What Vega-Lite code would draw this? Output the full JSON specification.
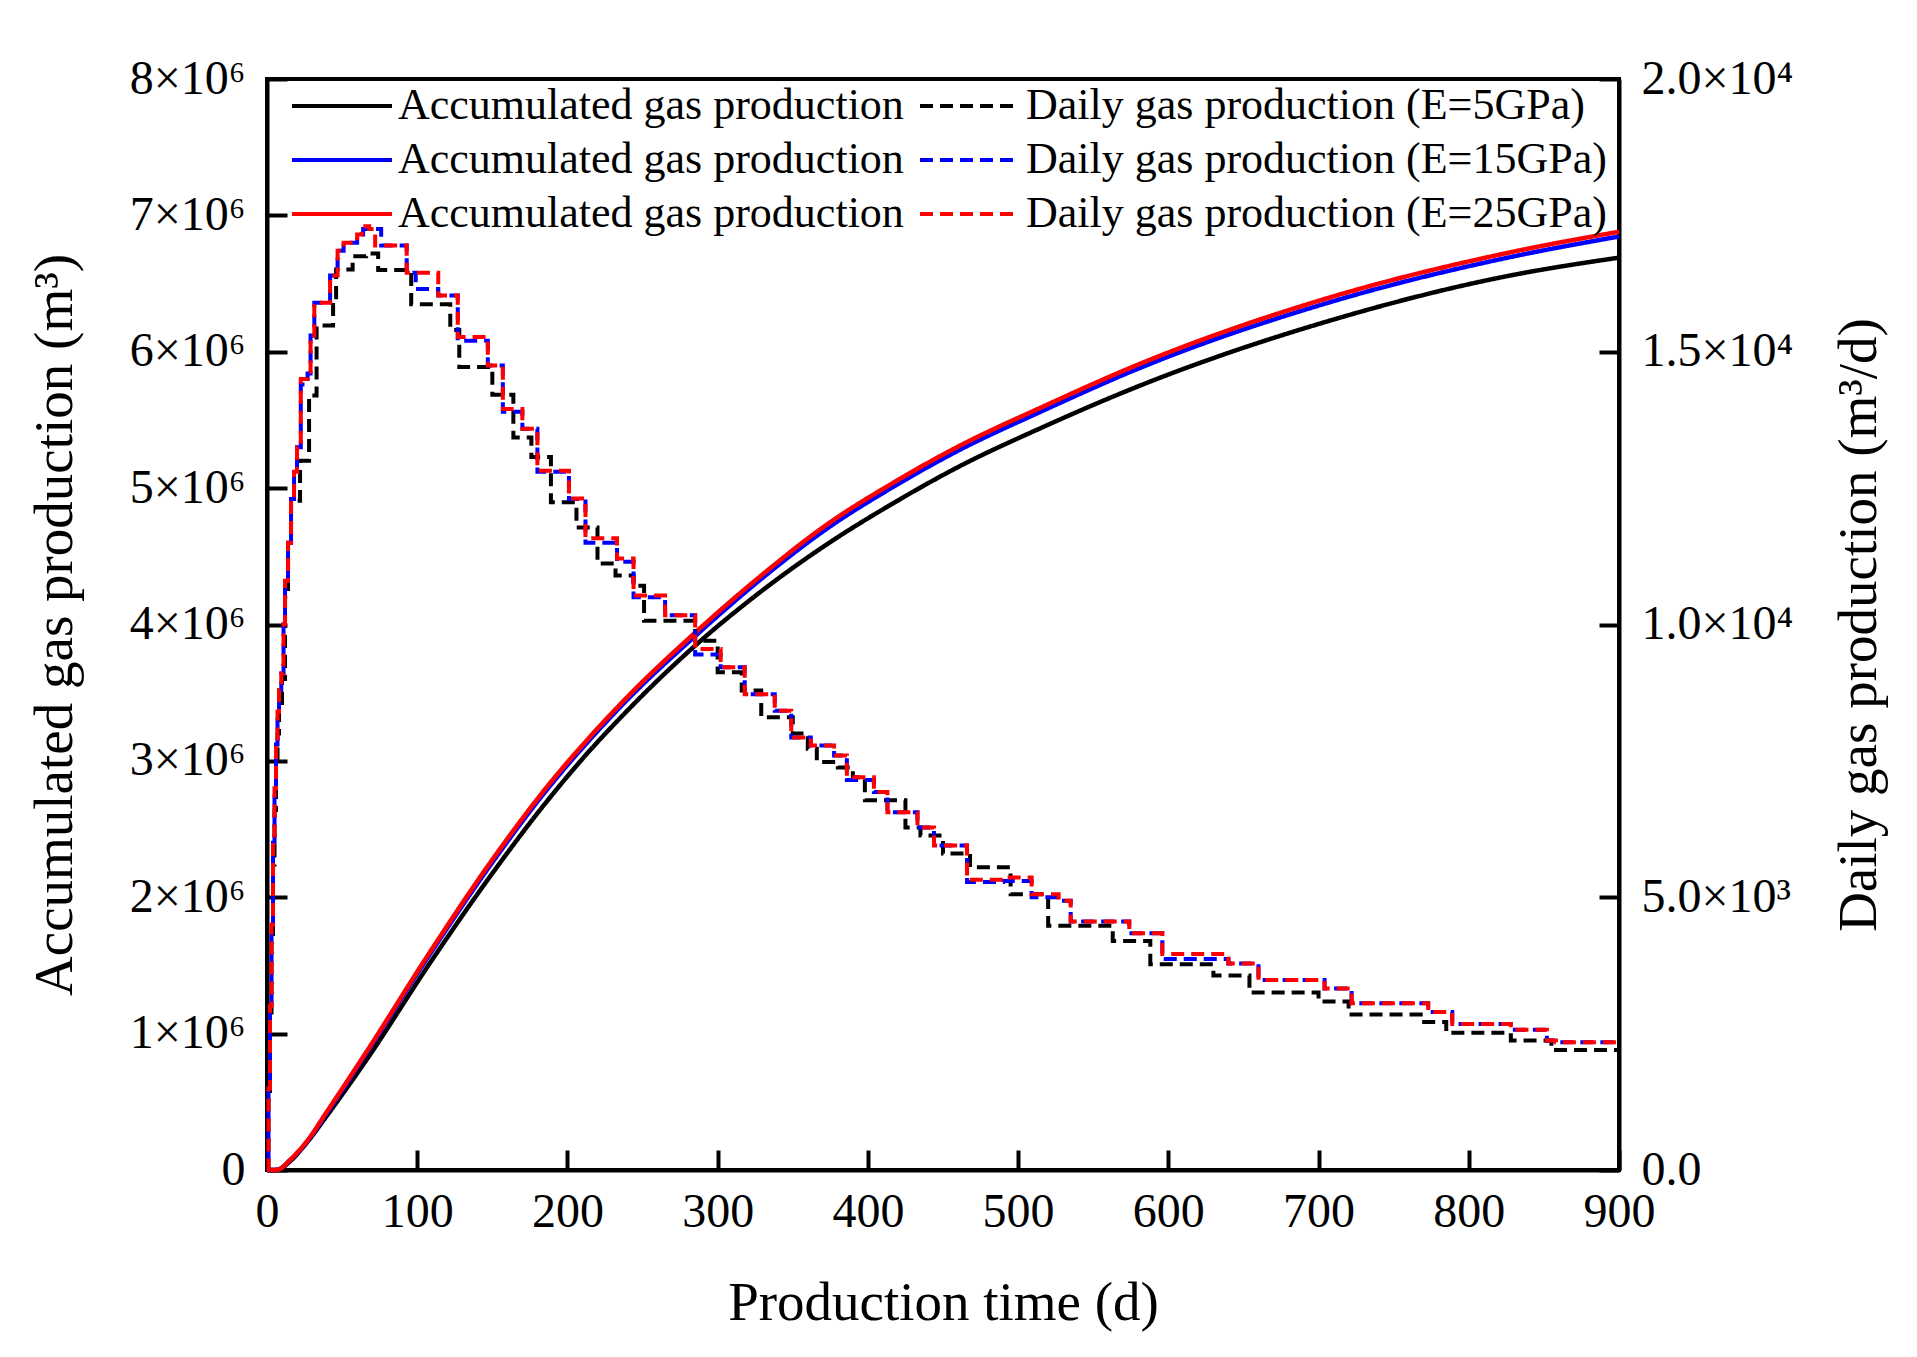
{
  "$schema": "https://vega.github.io/schema/vega-lite/v6.json",
  "autosize": {"type": "none"},
  "width": 1352,
  "height": 1091,
  "padding": {"left": 267, "top": 79, "right": 298, "bottom": 187},
  "background": "white",
  "config": {
    "view": {"stroke": "black", "strokeWidth": 4},
    "font": "Liberation Serif",
    "axis": {"grid": false, "domainColor": "black", "domainWidth": 4, "tickColor": "black", "tickWidth": 4, "tickSize": -20,
      "labelFont": "Liberation Serif", "labelFontSize": 48, "labelColor": "black", "labelFlush": false, "labelOverlap": false, "labelBound": false,
      "titleFont": "Liberation Serif", "titleFontSize": 55, "titleFontWeight": "normal", "titleColor": "black"}
  },
  "data": {"values": [
    {"s":"E05a","t":0,"v":0},{"s":"E05a","t":5,"v":0},{"s":"E05a","t":8,"v":4000},{"s":"E05a","t":15,"v":60000},{"s":"E05a","t":26.5,"v":200000},{"s":"E05a","t":40,"v":400000},{"s":"E05a","t":67,"v":820000},{"s":"E05a","t":108,"v":1510000},{"s":"E05a","t":149,"v":2160000},{"s":"E05a","t":189,"v":2740000},{"s":"E05a","t":208,"v":2990000},{"s":"E05a","t":240,"v":3370000},{"s":"E05a","t":284,"v":3835000},{"s":"E05a","t":328,"v":4235000},{"s":"E05a","t":373,"v":4590000},{"s":"E05a","t":417,"v":4890000},{"s":"E05a","t":461,"v":5160000},{"s":"E05a","t":515,"v":5440000},{"s":"E05a","t":583,"v":5760000},{"s":"E05a","t":705,"v":6220000},{"s":"E05a","t":828,"v":6560000},{"s":"E05a","t":900,"v":6690000},

    {"s":"E15a","t":0,"v":0},{"s":"E15a","t":5,"v":0},{"s":"E15a","t":8,"v":5000},{"s":"E15a","t":15,"v":68000},{"s":"E15a","t":26.5,"v":205000},{"s":"E15a","t":40,"v":420000},{"s":"E15a","t":67,"v":870000},{"s":"E15a","t":108,"v":1575000},{"s":"E15a","t":149,"v":2240000},{"s":"E15a","t":189,"v":2825000},{"s":"E15a","t":204,"v":3020000},{"s":"E15a","t":240,"v":3450000},{"s":"E15a","t":284,"v":3905000},{"s":"E15a","t":328,"v":4325000},{"s":"E15a","t":373,"v":4705000},{"s":"E15a","t":417,"v":5010000},{"s":"E15a","t":461,"v":5280000},{"s":"E15a","t":515,"v":5560000},{"s":"E15a","t":583,"v":5890000},{"s":"E15a","t":705,"v":6355000},{"s":"E15a","t":828,"v":6695000},{"s":"E15a","t":900,"v":6845000},

    {"s":"E25a","t":0,"v":0},{"s":"E25a","t":5,"v":0},{"s":"E25a","t":8,"v":5000},{"s":"E25a","t":15,"v":70000},{"s":"E25a","t":26.5,"v":210000},{"s":"E25a","t":40,"v":430000},{"s":"E25a","t":67,"v":880000},{"s":"E25a","t":108,"v":1590000},{"s":"E25a","t":149,"v":2260000},{"s":"E25a","t":189,"v":2845000},{"s":"E25a","t":204,"v":3040000},{"s":"E25a","t":240,"v":3470000},{"s":"E25a","t":284,"v":3930000},{"s":"E25a","t":328,"v":4350000},{"s":"E25a","t":373,"v":4735000},{"s":"E25a","t":417,"v":5040000},{"s":"E25a","t":461,"v":5310000},{"s":"E25a","t":515,"v":5590000},{"s":"E25a","t":583,"v":5920000},{"s":"E25a","t":705,"v":6390000},{"s":"E25a","t":828,"v":6730000},{"s":"E25a","t":900,"v":6880000},

    {"s":"E05d","t":0,"v":0},{"s":"E05d","t":1,"v":1400},{"s":"E05d","t":2,"v":2800},{"s":"E05d","t":3,"v":4200},{"s":"E05d","t":4,"v":5600},{"s":"E05d","t":5,"v":6600},{"s":"E05d","t":6,"v":7400},{"s":"E05d","t":7,"v":8000},{"s":"E05d","t":8,"v":8500},{"s":"E05d","t":10,"v":9000},{"s":"E05d","t":12,"v":10500},{"s":"E05d","t":14,"v":11500},{"s":"E05d","t":16,"v":12270},{"s":"E05d","t":22,"v":13000},{"s":"E05d","t":28,"v":14200},{"s":"E05d","t":33,"v":15480},{"s":"E05d","t":44,"v":16000},{"s":"E05d","t":46,"v":16510},{"s":"E05d","t":57,"v":16750},{"s":"E05d","t":66,"v":16800},{"s":"E05d","t":74,"v":16500},{"s":"E05d","t":96,"v":15870},{"s":"E05d","t":122,"v":15400},{"s":"E05d","t":128,"v":14720},{"s":"E05d","t":150,"v":14210},{"s":"E05d","t":164,"v":13430},{"s":"E05d","t":176,"v":13070},{"s":"E05d","t":189,"v":12240},{"s":"E05d","t":206,"v":11780},{"s":"E05d","t":220,"v":11120},{"s":"E05d","t":232,"v":10900},{"s":"E05d","t":244,"v":10710},{"s":"E05d","t":251,"v":10070},{"s":"E05d","t":285,"v":9700},{"s":"E05d","t":300,"v":9125},{"s":"E05d","t":316,"v":8790},{"s":"E05d","t":329,"v":8300},{"s":"E05d","t":350,"v":8000},{"s":"E05d","t":360,"v":7720},{"s":"E05d","t":366,"v":7480},{"s":"E05d","t":380,"v":7380},{"s":"E05d","t":390,"v":7200},{"s":"E05d","t":398,"v":6780},{"s":"E05d","t":425,"v":6280},{"s":"E05d","t":435,"v":6130},{"s":"E05d","t":450,"v":5800},{"s":"E05d","t":468,"v":5550},{"s":"E05d","t":495,"v":5056},{"s":"E05d","t":520,"v":4477},{"s":"E05d","t":563,"v":4198},{"s":"E05d","t":588,"v":3770},{"s":"E05d","t":630,"v":3564},{"s":"E05d","t":654,"v":3254},{"s":"E05d","t":700,"v":3087},{"s":"E05d","t":720,"v":2849},{"s":"E05d","t":768,"v":2714},{"s":"E05d","t":785,"v":2516},{"s":"E05d","t":828,"v":2373},{"s":"E05d","t":855,"v":2198},{"s":"E05d","t":900,"v":2198},

    {"s":"E15d","t":0,"v":0},{"s":"E15d","t":1,"v":1500},{"s":"E15d","t":2,"v":3000},{"s":"E15d","t":3,"v":4500},{"s":"E15d","t":4,"v":6000},{"s":"E15d","t":5,"v":7000},{"s":"E15d","t":6,"v":7800},{"s":"E15d","t":7,"v":8400},{"s":"E15d","t":8,"v":8800},{"s":"E15d","t":9.5,"v":9100},{"s":"E15d","t":11,"v":10000},{"s":"E15d","t":12,"v":10800},{"s":"E15d","t":14,"v":11500},{"s":"E15d","t":16,"v":12300},{"s":"E15d","t":18,"v":12800},{"s":"E15d","t":20,"v":13250},{"s":"E15d","t":22.5,"v":14400},{"s":"E15d","t":27,"v":14600},{"s":"E15d","t":29,"v":15300},{"s":"E15d","t":31.5,"v":15900},{"s":"E15d","t":42,"v":16400},{"s":"E15d","t":47,"v":16850},{"s":"E15d","t":51,"v":17000},{"s":"E15d","t":60,"v":17150},{"s":"E15d","t":64,"v":17250},{"s":"E15d","t":76,"v":16950},{"s":"E15d","t":93,"v":16450},{"s":"E15d","t":99,"v":16150},{"s":"E15d","t":114,"v":16030},{"s":"E15d","t":127,"v":15200},{"s":"E15d","t":147,"v":14750},{"s":"E15d","t":157,"v":13900},{"s":"E15d","t":170,"v":13590},{"s":"E15d","t":180,"v":12800},{"s":"E15d","t":201,"v":12300},{"s":"E15d","t":212,"v":11500},{"s":"E15d","t":233,"v":11150},{"s":"E15d","t":244,"v":10500},{"s":"E15d","t":265,"v":10170},{"s":"E15d","t":285,"v":9450},{"s":"E15d","t":302,"v":9215},{"s":"E15d","t":318,"v":8720},{"s":"E15d","t":338,"v":8420},{"s":"E15d","t":349,"v":7930},{"s":"E15d","t":362,"v":7780},{"s":"E15d","t":377.5,"v":7600},{"s":"E15d","t":386,"v":7150},{"s":"E15d","t":404,"v":6930},{"s":"E15d","t":413,"v":6560},{"s":"E15d","t":433,"v":6280},{"s":"E15d","t":444,"v":5950},{"s":"E15d","t":466,"v":5278},{"s":"E15d","t":490,"v":5300},{"s":"E15d","t":509,"v":5000},{"s":"E15d","t":527,"v":4937},{"s":"E15d","t":535,"v":4556},{"s":"E15d","t":574,"v":4341},{"s":"E15d","t":596,"v":3870},{"s":"E15d","t":640,"v":3786},{"s":"E15d","t":660,"v":3484},{"s":"E15d","t":704,"v":3326},{"s":"E15d","t":722,"v":3056},{"s":"E15d","t":773,"v":2897},{"s":"E15d","t":789,"v":2675},{"s":"E15d","t":828,"v":2571},{"s":"E15d","t":852,"v":2373},{"s":"E15d","t":858,"v":2341},{"s":"E15d","t":900,"v":2341},

    {"s":"E25d","t":0,"v":0},{"s":"E25d","t":1,"v":1500},{"s":"E25d","t":2,"v":3000},{"s":"E25d","t":3,"v":4500},{"s":"E25d","t":4,"v":6000},{"s":"E25d","t":5,"v":7000},{"s":"E25d","t":6,"v":7800},{"s":"E25d","t":7,"v":8400},{"s":"E25d","t":8,"v":8800},{"s":"E25d","t":9.5,"v":9100},{"s":"E25d","t":11,"v":10000},{"s":"E25d","t":12,"v":10800},{"s":"E25d","t":14,"v":11500},{"s":"E25d","t":16,"v":12300},{"s":"E25d","t":18,"v":12800},{"s":"E25d","t":20,"v":13250},{"s":"E25d","t":22.5,"v":14500},{"s":"E25d","t":27,"v":14600},{"s":"E25d","t":29,"v":15300},{"s":"E25d","t":31.5,"v":15900},{"s":"E25d","t":42,"v":16400},{"s":"E25d","t":47,"v":16850},{"s":"E25d","t":51,"v":17000},{"s":"E25d","t":60,"v":17150},{"s":"E25d","t":63,"v":17300},{"s":"E25d","t":68,"v":17250},{"s":"E25d","t":72,"v":16950},{"s":"E25d","t":93,"v":16450},{"s":"E25d","t":114,"v":16030},{"s":"E25d","t":127,"v":15270},{"s":"E25d","t":147,"v":14750},{"s":"E25d","t":157,"v":13950},{"s":"E25d","t":170,"v":13590},{"s":"E25d","t":180,"v":12820},{"s":"E25d","t":201,"v":12310},{"s":"E25d","t":212,"v":11580},{"s":"E25d","t":233,"v":11210},{"s":"E25d","t":244,"v":10530},{"s":"E25d","t":265,"v":10170},{"s":"E25d","t":285,"v":9550},{"s":"E25d","t":302,"v":9215},{"s":"E25d","t":318,"v":8720},{"s":"E25d","t":338,"v":8420},{"s":"E25d","t":349,"v":7930},{"s":"E25d","t":362,"v":7780},{"s":"E25d","t":377.5,"v":7600},{"s":"E25d","t":386,"v":7200},{"s":"E25d","t":404,"v":6930},{"s":"E25d","t":413,"v":6560},{"s":"E25d","t":433,"v":6280},{"s":"E25d","t":444,"v":5950},{"s":"E25d","t":466,"v":5320},{"s":"E25d","t":490,"v":5360},{"s":"E25d","t":509,"v":5056},{"s":"E25d","t":527,"v":4937},{"s":"E25d","t":535,"v":4556},{"s":"E25d","t":574,"v":4341},{"s":"E25d","t":596,"v":3960},{"s":"E25d","t":640,"v":3786},{"s":"E25d","t":660,"v":3484},{"s":"E25d","t":704,"v":3326},{"s":"E25d","t":722,"v":3056},{"s":"E25d","t":773,"v":2897},{"s":"E25d","t":789,"v":2675},{"s":"E25d","t":828,"v":2571},{"s":"E25d","t":852,"v":2373},{"s":"E25d","t":858,"v":2341},{"s":"E25d","t":900,"v":2341}
  ]},
  "encoding": {
    "x": {"field": "t", "type": "quantitative", "scale": {"domain": [0, 900], "nice": false},
      "axis": {"title": "Production time (d)", "values": [0,100,200,300,400,500,600,700,800,900], "labelPadding": 38, "titlePadding": 40}},
    "color": {"field": "s", "type": "nominal",
      "scale": {"domain": ["E05a","E15a","E25a","E05d","E15d","E25d"], "range": ["#000000","#0000ff","#ff0000","#000000","#0000ff","#ff0000"]},
      "legend": {"title": null, "orient": "none", "legendX": 23, "legendY": 0, "columns": 2, "symbolType": "M-2,0H2", "symbolSize": 2500, "symbolOffset": 25, "symbolStrokeWidth": 4,
        "labelFont": "Liberation Serif", "labelFontSize": 44, "labelColor": "black", "labelOffset": 29, "columnPadding": 8, "rowPadding": 5, "padding": 0, "labelLimit": 0,
        "labelExpr": "substring(datum.value,3,4)=='a' ? 'Accumulated gas production' : 'Daily gas production (E=' + toNumber(substring(datum.value,1,3)) + 'GPa)'"}},
    "strokeDash": {"field": "s", "type": "nominal",
      "scale": {"domain": ["E05a","E15a","E25a","E05d","E15d","E25d"], "range": [[1,0],[1,0],[1,0],[13,7],[13,7],[13,7]]}}
  },
  "layer": [
    {
      "encoding": {"y": {"field": "v", "type": "quantitative", "scale": {"domain": [0, 8000000], "nice": false},
        "axis": {"orient": "left", "title": "Accumulated gas production (m³)", "values": [0,1000000,2000000,3000000,4000000,5000000,6000000,7000000,8000000],
          "labelExpr": "datum.value == 0 ? '0' : format(datum.value/1000000,'d') + '×10⁶'", "labelPadding": 42, "titlePadding": 46}}},
      "layer": [
        {"transform": [{"filter": "datum.s == 'E05a'"}], "mark": {"type": "line", "interpolate": "monotone", "strokeWidth": 4.5}},
        {"transform": [{"filter": "datum.s == 'E15a'"}], "mark": {"type": "line", "interpolate": "monotone", "strokeWidth": 4.5}},
        {"transform": [{"filter": "datum.s == 'E25a'"}], "mark": {"type": "line", "interpolate": "monotone", "strokeWidth": 4.5}}
      ]
    },
    {
      "encoding": {"y": {"field": "v", "type": "quantitative", "scale": {"domain": [0, 20000], "nice": false},
        "axis": {"orient": "right", "title": "Daily gas production (m³/d)", "titleAngle": 270, "titleBaseline": "top", "values": [0,5000,10000,15000,20000],
          "labelExpr": "datum.value == 0 ? '0.0' : (datum.value < 10000 ? format(datum.value/1000,'.1f') + '×10³' : format(datum.value/10000,'.1f') + '×10⁴')", "labelPadding": 42, "titlePadding": 40}}},
      "layer": [
        {"transform": [{"filter": "datum.s == 'E05d'"}], "mark": {"type": "line", "interpolate": "step-after", "strokeWidth": 4}},
        {"transform": [{"filter": "datum.s == 'E15d'"}], "mark": {"type": "line", "interpolate": "step-after", "strokeWidth": 4, "strokeDashOffset": 10}},
        {"transform": [{"filter": "datum.s == 'E25d'"}], "mark": {"type": "line", "interpolate": "step-after", "strokeWidth": 4}}
      ]
    }
  ],
  "resolve": {"scale": {"y": "independent"}, "axis": {"y": "independent"}}
}
